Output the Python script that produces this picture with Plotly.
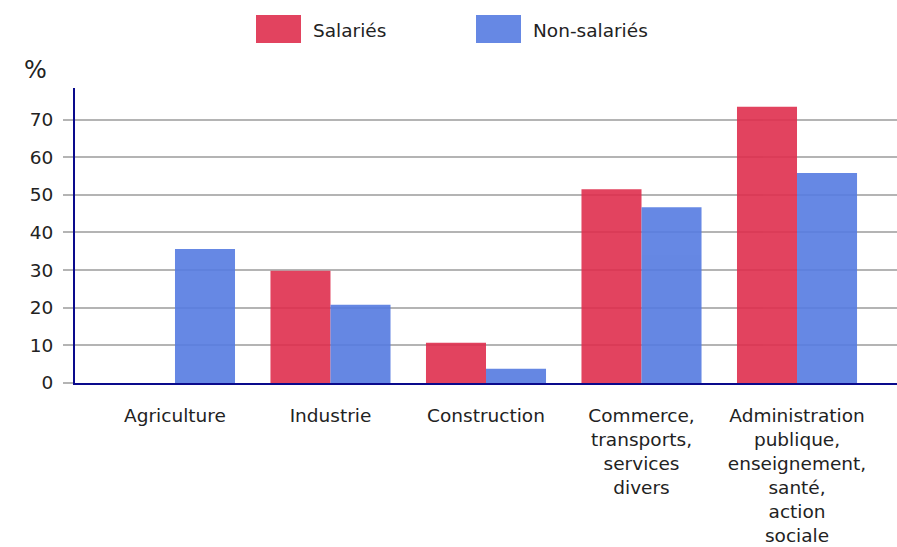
import plotly.graph_objects as go

CATEGORIES = ["Agriculture", "Industrie", "Construction",
              "Commerce,<br>transports,<br>services<br>divers",
              "Administration<br>publique,<br>enseignement,<br>santé,<br>action<br>sociale"]
SALARIES = [None, 29.8, 10.7, 51.5, 73.4]
NON_SALARIES = [35.6, 20.8, 3.8, 46.7, 55.8]
SERIES_NAMES = ["Salariés", "Non-salariés"]
Y_TICKS = [0, 10, 20, 30, 40, 50, 60, 70]

RED = "#DF2F4E"
BLUE = "#557BE1"
FONT = "DejaVu Sans"
TXT = "#222222"

fig = go.Figure()
fig.add_trace(go.Bar(x=CATEGORIES, y=SALARIES, name=SERIES_NAMES[0],
                     marker=dict(color=RED, line=dict(width=0)), opacity=0.9))
fig.add_trace(go.Bar(x=CATEGORIES, y=NON_SALARIES, name=SERIES_NAMES[1],
                     marker=dict(color=BLUE, line=dict(width=0)), opacity=0.9))

# custom legend (large swatches), positions relative to the plot area
for sx, color, name in [(256, RED, SERIES_NAMES[0]), (476, BLUE, SERIES_NAMES[1])]:
    fig.add_shape(type="rect", xref="paper", yref="paper",
                  x0=(sx - 75) / 822, x1=(sx + 45 - 75) / 822,
                  y0=(383.5 - 43) / 295.5, y1=(383.5 - 15) / 295.5,
                  fillcolor=color, opacity=0.9, line=dict(width=0))
    fig.add_annotation(text=name, xref="paper", yref="paper",
                       x=(sx + 55 - 75) / 822, y=(383.5 - 30) / 295.5,
                       xanchor="left", yanchor="middle", showarrow=False,
                       font=dict(family=FONT, size=18.5, color=TXT))

fig.add_annotation(text="%", xref="paper", yref="paper",
                   x=(35 - 75) / 822, y=(383.5 - 70) / 295.5,
                   xanchor="center", yanchor="middle", showarrow=False,
                   font=dict(family=FONT, size=24, color=TXT))

fig.update_layout(
    width=897, height=547,
    margin=dict(l=75, r=0, t=88, b=163.5),
    paper_bgcolor="white", plot_bgcolor="white",
    showlegend=False,
    barmode="group", bargap=0.228, bargroupgap=0,
    font=dict(family=FONT, size=18, color=TXT),
)
fig.update_xaxes(range=[-0.643, 4.643], showline=True, linecolor="#0A0A8C", linewidth=2,
                 ticks="", showgrid=False, ticklabelstandoff=15, automargin=False,
                 tickfont=dict(family=FONT, size=18.5, color=TXT))
fig.update_yaxes(range=[0, 78.4], tickvals=Y_TICKS, showline=True, linecolor="#0A0A8C",
                 linewidth=2, gridcolor="#B4B4B4", gridwidth=1.5, zeroline=False,
                 ticks="outside", ticklen=10, tickcolor="#B4B4B4", tickwidth=1.5,
                 automargin=False, ticklabelstandoff=6,
                 tickfont=dict(family=FONT, size=18.5, color=TXT))

# drop the default body margin so the figure fills the window exactly
fig.write_html("out.html", config={"displayModeBar": False},
               post_script="document.body.style.margin='0';document.body.style.overflow='hidden';")
